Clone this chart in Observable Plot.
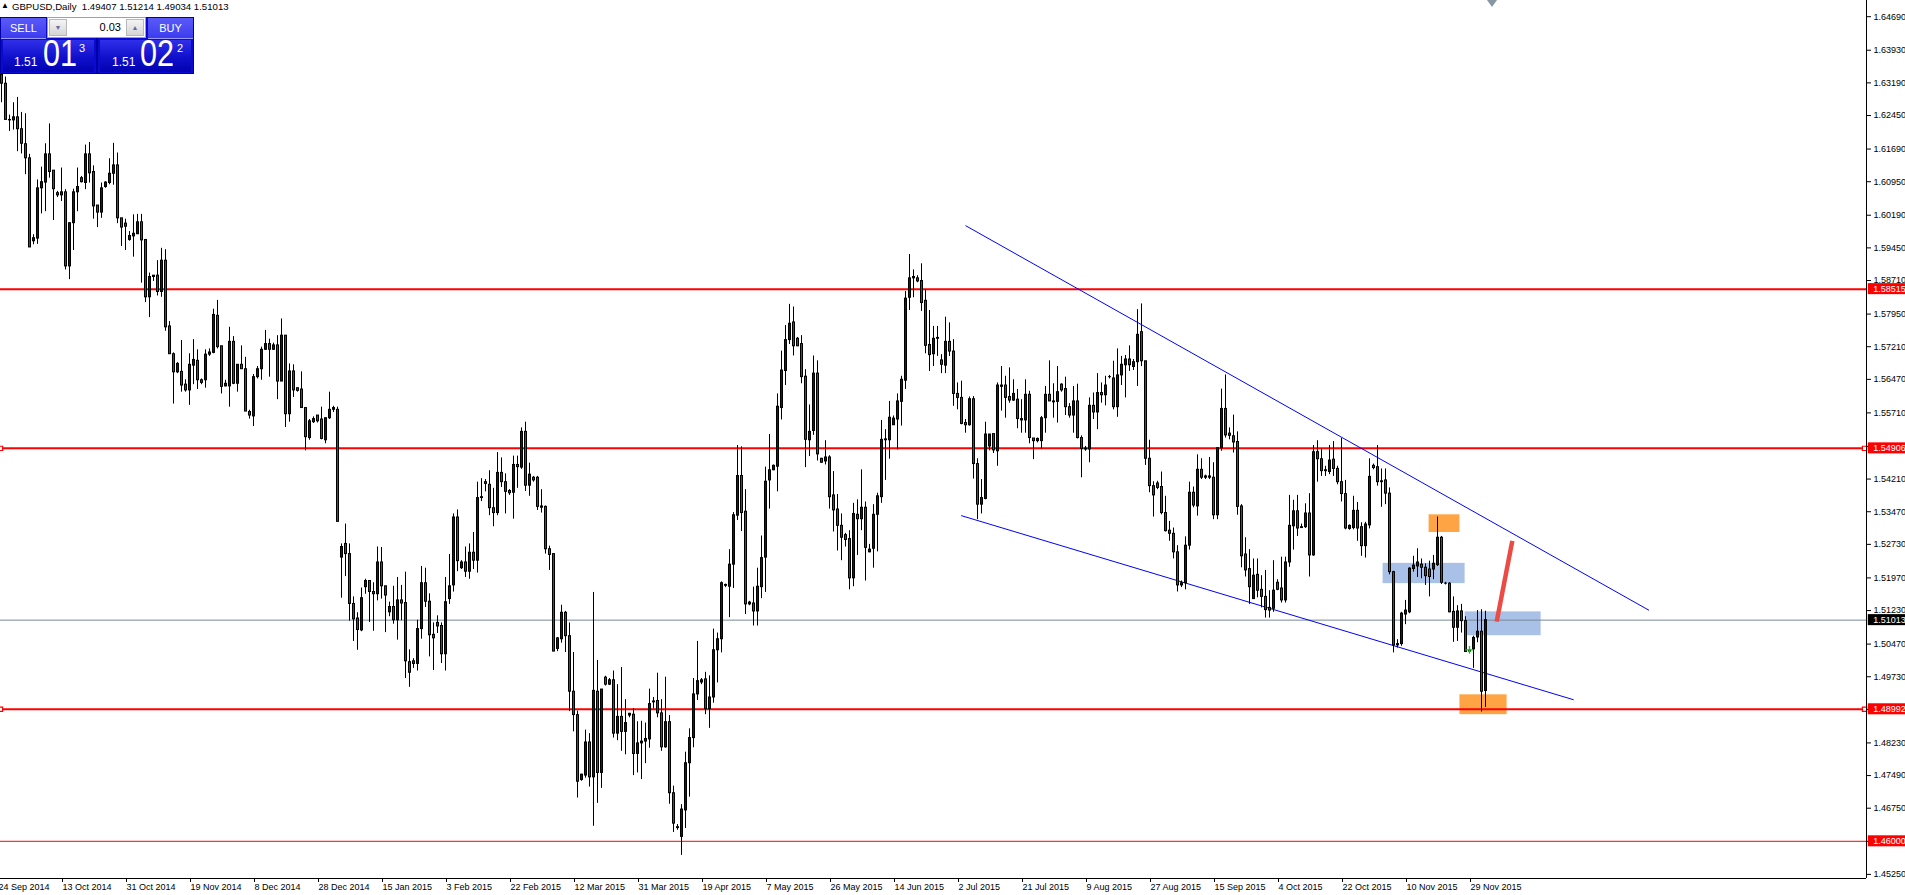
<!DOCTYPE html>
<html><head><meta charset="utf-8">
<script src="https://cdn.jsdelivr.net/npm/d3@7"></script>
<script src="https://cdn.jsdelivr.net/npm/@observablehq/plot@0.6"></script>
<style>
html,body{margin:0;padding:0;background:#fff;overflow:hidden;}
#wrap{position:relative;width:1905px;height:895px;font-family:"Liberation Sans",Arial,sans-serif;}
#wrap svg{position:absolute;left:0;top:0;}
.abs{position:absolute;white-space:pre;line-height:1;}
#hdr{left:12px;top:2px;font-size:9.6px;color:#000;}
#tri{left:1px;top:2px;font-size:8px;color:#000;}
.frame{position:absolute;top:17px;width:97px;height:57px;background:#0a0ad0;box-sizing:border-box;border:1px solid #0000a0;}
.cellTop{position:absolute;top:0;height:21px;width:45px;background:linear-gradient(#5a5af8,#3c3cee);border-bottom:1px solid #9a9aff;box-sizing:border-box;color:#fff;font-size:11px;text-align:center;line-height:21px;}
.cellPx{position:absolute;left:2px;top:22px;width:91px;height:32px;background:linear-gradient(#3030ea,#1010cc 55%,#0202b0);}
#vol{position:absolute;left:47px;top:17px;width:99px;height:21px;background:#fff;border:1px solid #a0a0a0;box-sizing:border-box;}
.arr{position:absolute;top:1px;width:18px;height:17px;background:linear-gradient(#f4f4f4,#d6d6d6);border:1px solid #b8b8b8;box-sizing:border-box;color:#6a6aa0;font-size:7px;text-align:center;line-height:15px;}
#volTxt{position:absolute;right:24px;top:4px;font-size:11px;color:#000;line-height:1;}
.pxs{color:#fff;font-size:12px;}
.pxb{color:#fff;font-size:36px;transform:scaleX(0.85);transform-origin:left top;}
.pxu{color:#fff;font-size:11px;}
#shift{position:absolute;left:1487px;top:0;width:0;height:0;border-left:5px solid transparent;border-right:5px solid transparent;border-top:7px solid #8896a4;}
</style></head>
<body><div id="wrap"></div>
<script>
// ---------- data (GBPUSD daily, one value per bar) ----------
const opens = [
1.6337,1.6317,1.6235,1.6234,1.6241,1.6214,1.6180,1.6148,1.5960,1.5966,
1.6080,1.6093,1.6157,1.6120,1.6069,1.6064,1.6071,1.5903,1.6001,1.6071,
1.6103,1.6092,1.6157,1.6117,1.6041,1.6025,1.6083,1.6092,1.6113,1.6132,
1.6012,1.6000,1.5963,1.5971,1.5976,1.6003,1.5963,1.5833,1.5882,1.5882,
1.5845,1.5916,1.5767,1.5704,1.5663,1.5664,1.5635,1.5622,1.5678,1.5689,
1.5645,1.5645,1.5703,1.5707,1.5791,1.5722,1.5631,1.5631,1.5732,1.5637,
1.5680,1.5670,1.5573,1.5563,1.5652,1.5670,1.5714,1.5727,1.5714,1.5724,
1.5642,1.5746,1.5568,1.5665,1.5627,1.5624,1.5582,1.5514,1.5550,1.5565,
1.5556,1.5509,1.5559,1.5578,1.5578,1.5243,1.5274,1.5251,1.5138,1.5105,
1.5078,1.5176,1.5190,1.5165,1.5160,1.5232,1.5178,1.5119,1.5131,1.5101,
1.5146,1.5140,1.5006,1.5008,1.5002,1.5081,1.5185,1.5143,1.5068,1.5095,
1.5088,1.5024,1.5149,1.5180,1.5334,1.5219,1.5232,1.5211,1.5254,1.5236,
1.5378,1.5414,1.5408,1.5355,1.5344,1.5435,1.5414,1.5394,1.5390,1.5453,
1.5447,1.5528,1.5406,1.5424,1.5424,1.5359,1.5358,1.5262,1.5251,1.5036,
1.5058,1.5118,1.5065,1.4939,1.4886,1.4739,1.4749,1.4824,1.4745,1.4939,
1.4755,1.4971,1.4955,1.4965,1.4844,1.4882,1.4848,1.4885,1.4887,1.4798,
1.4822,1.4826,1.4831,1.4915,1.4918,1.4890,1.4813,1.4870,1.4709,1.4630,
1.4610,1.4670,1.4777,1.4834,1.4933,1.4960,1.4967,1.4900,1.4926,1.5033,
1.5058,1.5179,1.5177,1.5227,1.5338,1.5428,1.5347,1.5141,1.5139,1.5121,
1.5176,1.5243,1.5418,1.5441,1.5449,1.5582,1.5666,1.5736,1.5776,1.5739,
1.5727,1.5653,1.5509,1.5530,1.5660,1.5467,1.5461,1.5470,1.5384,1.5352,
1.5315,1.5294,1.5285,1.5196,1.5340,1.5330,1.5356,1.5255,1.5263,1.5340,
1.5380,1.5509,1.5509,1.5543,1.5556,1.5596,1.5644,1.5832,1.5876,1.5876,
1.5870,1.5825,1.5725,1.5704,1.5739,1.5690,1.5678,1.5732,1.5710,1.5614,
1.5605,1.5548,1.5543,1.5602,1.5455,1.5363,1.5376,1.5495,1.5523,1.5484,
1.5633,1.5633,1.5607,1.5599,1.5601,1.5557,1.5554,1.5612,1.5513,1.5507,
1.5507,1.5559,1.5612,1.5595,1.5596,1.5635,1.5625,1.5584,1.5565,1.5597,
1.5514,1.5490,1.5488,1.5587,1.5572,1.5616,1.5611,1.5652,1.5649,1.5584,
1.5656,1.5679,1.5692,1.5675,1.5686,1.5754,1.5688,1.5467,1.5405,1.5411,
1.5403,1.5344,1.5304,1.5297,1.5255,1.5180,1.5185,1.5270,1.5390,1.5359,
1.5442,1.5424,1.5427,1.5424,1.5339,1.5491,1.5580,1.5524,1.5518,1.5505,
1.5359,1.5250,1.5217,1.5149,1.5204,1.5170,1.5154,1.5129,1.5127,1.5186,
1.5173,1.5146,1.5232,1.5314,1.5348,1.5312,1.5312,1.5343,1.5248,1.5482,
1.5466,1.5441,1.5437,1.5465,1.5444,1.5414,1.5387,1.5308,1.5310,1.5349,
1.5312,1.5269,1.5316,1.5451,1.5448,1.5416,1.5418,1.5388,1.5210,1.5047,
1.5047,1.5114,1.5119,1.5217,1.5223,1.5227,1.5220,1.5216,1.5216,1.5226,
1.5288,1.5184,1.5184,1.5120,1.5084,1.5121,1.5099,1.5030,1.5035,1.5062,
1.5075,1.49407];
const highs = [
1.6339,1.6332,1.6246,1.6274,1.6286,1.6252,1.6249,1.6157,1.5975,1.6099,
1.6128,1.6181,1.6226,1.6120,1.6073,1.6126,1.6077,1.6001,1.6078,1.6126,
1.6107,1.6178,1.6184,1.6131,1.6041,1.6092,1.6095,1.6147,1.6182,1.6160,
1.6012,1.6010,1.5982,1.6020,1.6021,1.6021,1.5963,1.5888,1.5882,1.5916,
1.5944,1.5941,1.5778,1.5707,1.5685,1.5735,1.5646,1.5705,1.5737,1.5714,
1.5648,1.5714,1.5716,1.5806,1.5826,1.5722,1.5645,1.5765,1.5744,1.5680,
1.5723,1.5697,1.5577,1.5658,1.5676,1.5720,1.5758,1.5738,1.5729,1.5746,
1.5784,1.5746,1.5682,1.5680,1.5627,1.5664,1.5582,1.5556,1.5562,1.5565,
1.5584,1.5559,1.5618,1.5586,1.5584,1.5274,1.5319,1.5274,1.5154,1.5118,
1.5174,1.5194,1.5191,1.5186,1.5267,1.5266,1.5178,1.5142,1.5178,1.5198,
1.5180,1.5210,1.5034,1.5014,1.5101,1.5223,1.5219,1.5161,1.5095,1.5111,
1.5095,1.5198,1.5250,1.5342,1.5351,1.5236,1.5267,1.5274,1.5300,1.5414,
1.5422,1.5420,1.5440,1.5400,1.5481,1.5469,1.5433,1.5397,1.5473,1.5473,
1.5537,1.5550,1.5457,1.5427,1.5427,1.5397,1.5360,1.5269,1.5251,1.5062,
1.5135,1.5121,1.5095,1.5028,1.4895,1.4752,1.4852,1.4844,1.5164,1.5010,
1.4944,1.4974,1.4969,1.4986,1.4955,1.4994,1.4921,1.4890,1.4901,1.4871,
1.4872,1.4868,1.4945,1.4926,1.4981,1.4921,1.4972,1.4885,1.4725,1.4638,
1.4683,1.4802,1.4855,1.4969,1.5053,1.4969,1.4983,1.4975,1.5081,1.5072,
1.5188,1.5183,1.5261,1.5345,1.5497,1.5494,1.5397,1.5144,1.5176,1.5219,
1.5292,1.5448,1.5522,1.5453,1.5614,1.5711,1.5769,1.5817,1.5811,1.5742,
1.5746,1.5669,1.5589,1.5700,1.5689,1.5468,1.5508,1.5474,1.5438,1.5386,
1.5342,1.5298,1.5304,1.5366,1.5374,1.5442,1.5369,1.5273,1.5363,1.5389,
1.5554,1.5533,1.5597,1.5564,1.5614,1.5654,1.5846,1.5930,1.5895,1.5882,
1.5909,1.5849,1.5803,1.5767,1.5767,1.5703,1.5788,1.5775,1.5737,1.5639,
1.5643,1.5556,1.5607,1.5608,1.5467,1.5420,1.5550,1.5522,1.5523,1.5639,
1.5676,1.5654,1.5673,1.5646,1.5624,1.5601,1.5646,1.5620,1.5513,1.5514,
1.5563,1.5631,1.5689,1.5637,1.5676,1.5637,1.5652,1.5592,1.5631,1.5636,
1.5519,1.5495,1.5605,1.5616,1.5660,1.5639,1.5654,1.5656,1.5688,1.5716,
1.5699,1.5701,1.5723,1.5692,1.5805,1.5818,1.5688,1.5509,1.5415,1.5416,
1.5437,1.5382,1.5325,1.5310,1.5270,1.5190,1.5290,1.5414,1.5403,1.5476,
1.5467,1.5430,1.5470,1.5458,1.5491,1.5625,1.5657,1.5537,1.5566,1.5528,
1.5363,1.5288,1.5261,1.5240,1.5240,1.5202,1.5214,1.5168,1.5236,1.5193,
1.5244,1.5244,1.5384,1.5373,1.5384,1.5319,1.5365,1.5388,1.5497,1.5508,
1.5489,1.5450,1.5497,1.5506,1.5450,1.5513,1.5418,1.5317,1.5382,1.5368,
1.5322,1.5323,1.5467,1.5455,1.5497,1.5444,1.5444,1.5401,1.5212,1.5057,
1.5119,1.5146,1.5220,1.5246,1.5263,1.5240,1.5229,1.5235,1.5248,1.5335,
1.5291,1.5187,1.5186,1.5154,1.5134,1.5137,1.5109,1.5034,1.5065,1.5123,
1.5125,1.51214];
const lows = [
1.6274,1.6235,1.6209,1.6212,1.6163,1.6158,1.6111,1.5946,1.5952,1.5953,
1.6022,1.6027,1.6103,1.6007,1.6059,1.6050,1.5895,1.5873,1.5939,1.6027,
1.6092,1.6077,1.6092,1.6010,1.5991,1.6012,1.6080,1.6088,1.6087,1.6000,
1.5948,1.5939,1.5960,1.5924,1.5975,1.5865,1.5821,1.5787,1.5869,1.5836,
1.5833,1.5756,1.5704,1.5591,1.5660,1.5618,1.5618,1.5588,1.5635,1.5624,
1.5635,1.5627,1.5699,1.5705,1.5716,1.5614,1.5630,1.5584,1.5635,1.5618,
1.5670,1.5574,1.5557,1.5540,1.5648,1.5645,1.5713,1.5652,1.5713,1.5601,
1.5642,1.5538,1.5550,1.5606,1.5618,1.5582,1.5485,1.5509,1.5547,1.5548,
1.5510,1.5501,1.5556,1.5572,1.5324,1.5151,1.5200,1.5099,1.5053,1.5033,
1.5075,1.5160,1.5096,1.5076,1.5145,1.5149,1.5073,1.5109,1.5092,1.5056,
1.5100,1.4969,1.4949,1.4992,1.4986,1.5058,1.5130,1.5018,1.4987,1.5071,
1.5003,1.4986,1.5137,1.5165,1.5211,1.5216,1.5198,1.5194,1.5216,1.5208,
1.5370,1.5392,1.5338,1.5313,1.5338,1.5402,1.5342,1.5384,1.5330,1.5400,
1.5443,1.5393,1.5382,1.5414,1.5350,1.5344,1.5251,1.5214,1.5030,1.5030,
1.5049,1.5028,1.4894,1.4848,1.4698,1.4736,1.4743,1.4723,1.4634,1.4686,
1.4720,1.4952,1.4953,1.4834,1.4828,1.4804,1.4796,1.4880,1.4749,1.4755,
1.4740,1.4776,1.4811,1.4900,1.4880,1.4804,1.4811,1.4684,1.4620,1.4625,
1.4568,1.4629,1.4700,1.4812,1.4919,1.4955,1.4887,1.4856,1.4913,1.4959,
1.5027,1.5175,1.5107,1.5173,1.5327,1.5302,1.5114,1.5134,1.5088,1.5088,
1.5150,1.5164,1.5353,1.5440,1.5392,1.5555,1.5633,1.5726,1.5700,1.5721,
1.5637,1.5447,1.5472,1.5520,1.5462,1.5457,1.5453,1.5353,1.5301,1.5258,
1.5236,1.5267,1.5170,1.5177,1.5248,1.5304,1.5190,1.5254,1.5219,1.5256,
1.5366,1.5418,1.5466,1.5543,1.5487,1.5541,1.5624,1.5803,1.5832,1.5866,
1.5801,1.5705,1.5665,1.5676,1.5699,1.5660,1.5660,1.5699,1.5586,1.5578,
1.5544,1.5525,1.5541,1.5421,1.5329,1.5342,1.5374,1.5485,1.5479,1.5450,
1.5575,1.5559,1.5593,1.5597,1.5535,1.5525,1.5525,1.5501,1.5465,1.5503,
1.5488,1.5525,1.5597,1.5559,1.5548,1.5618,1.5565,1.5559,1.5525,1.5512,
1.5424,1.5484,1.5458,1.5556,1.5533,1.5593,1.5587,1.5648,1.5578,1.5561,
1.5633,1.5605,1.5665,1.5667,1.5631,1.5676,1.5452,1.5390,1.5335,1.5397,
1.5340,1.5301,1.5280,1.5240,1.5165,1.5175,1.5170,1.5260,1.5356,1.5337,
1.5420,1.5420,1.5420,1.5329,1.5329,1.5484,1.5514,1.5510,1.5480,1.5339,
1.5220,1.5199,1.5137,1.5148,1.5152,1.5129,1.5106,1.5106,1.5119,1.5168,
1.5140,1.5140,1.5221,1.5260,1.5291,1.5309,1.5309,1.5199,1.5246,1.5414,
1.5427,1.5427,1.5431,1.5427,1.5408,1.5369,1.5306,1.5305,1.5306,1.5280,
1.5246,1.5242,1.5308,1.5442,1.5405,1.5357,1.5363,1.5204,1.5027,1.5038,
1.5042,1.5091,1.5116,1.5210,1.5198,1.5195,1.5180,1.5154,1.5193,1.5223,
1.5182,1.5181,1.5118,1.5051,1.5053,1.5072,1.5028,1.5028,1.4992,1.5050,
1.4893,1.49034];
const closes = [
1.6317,1.6235,1.6234,1.6241,1.6214,1.6181,1.6148,1.5946,1.5967,1.6080,
1.6094,1.6157,1.6117,1.6078,1.6064,1.6071,1.5903,1.6001,1.6071,1.6083,
1.6094,1.6157,1.6114,1.6039,1.6025,1.6080,1.6093,1.6113,1.6132,1.6012,
1.5991,1.5993,1.5972,1.5977,1.6003,1.5962,1.5833,1.5879,1.5879,1.5845,
1.5916,1.5765,1.5704,1.5663,1.5682,1.5633,1.5622,1.5680,1.5691,1.5645,
1.5639,1.5703,1.5708,1.5793,1.5720,1.5630,1.5637,1.5732,1.5637,1.5680,
1.5670,1.5574,1.5565,1.5652,1.5670,1.5714,1.5727,1.5714,1.5724,1.5642,
1.5746,1.5568,1.5665,1.5622,1.5621,1.5582,1.5516,1.5552,1.5557,1.5552,
1.5512,1.5559,1.5578,1.5582,1.5324,1.5267,1.5251,1.5138,1.5103,1.5079,
1.5151,1.5190,1.5165,1.5160,1.5232,1.5178,1.5157,1.5131,1.5101,1.5146,
1.5139,1.5008,1.4982,1.5002,1.5081,1.5185,1.5143,1.5067,1.5060,1.5087,
1.5024,1.5142,1.5178,1.5334,1.5235,1.5232,1.5211,1.5254,1.5236,1.5378,
1.5380,1.5410,1.5355,1.5344,1.5435,1.5414,1.5392,1.5389,1.5453,1.5448,
1.5528,1.5406,1.5431,1.5418,1.5358,1.5356,1.5262,1.5249,1.5030,1.5060,
1.5118,1.5065,1.4939,1.4886,1.4735,1.4751,1.4824,1.4745,1.4941,1.4755,
1.4944,1.4955,1.4965,1.4844,1.4882,1.4848,1.4868,1.4889,1.4798,1.4822,
1.4826,1.4832,1.4911,1.4917,1.4890,1.4813,1.4870,1.4709,1.4640,1.4632,
1.4672,1.4777,1.4834,1.4933,1.4963,1.4965,1.4900,1.4926,1.5033,1.5058,
1.5185,1.5181,1.5227,1.5339,1.5428,1.5344,1.5137,1.5137,1.5121,1.5177,
1.5242,1.5415,1.5441,1.5451,1.5585,1.5667,1.5736,1.5773,1.5722,1.5722,
1.5652,1.5510,1.5528,1.5660,1.5477,1.5458,1.5470,1.5380,1.5350,1.5315,
1.5288,1.5283,1.5196,1.5342,1.5330,1.5356,1.5265,1.5261,1.5340,1.5382,
1.5510,1.5511,1.5560,1.5558,1.5597,1.5646,1.5830,1.5876,1.5879,1.5869,
1.5820,1.5723,1.5702,1.5739,1.5741,1.5680,1.5732,1.5710,1.5614,1.5605,
1.5546,1.5543,1.5602,1.5455,1.5363,1.5378,1.5522,1.5522,1.5486,1.5633,
1.5630,1.5605,1.5599,1.5614,1.5557,1.5554,1.5612,1.5514,1.5507,1.5512,
1.5559,1.5612,1.5597,1.5597,1.5618,1.5622,1.5584,1.5565,1.5597,1.5514,
1.5489,1.5488,1.5587,1.5572,1.5616,1.5611,1.5633,1.5652,1.5584,1.5656,
1.5680,1.5692,1.5679,1.5686,1.5748,1.5688,1.5467,1.5405,1.5384,1.5401,
1.5344,1.5303,1.5297,1.5255,1.5180,1.5185,1.5270,1.5390,1.5361,1.5442,
1.5424,1.5427,1.5424,1.5339,1.5491,1.5580,1.5520,1.5519,1.5504,1.5358,
1.5246,1.5214,1.5176,1.5202,1.5168,1.5154,1.5124,1.5123,1.5168,1.5170,
1.5146,1.5232,1.5315,1.5348,1.5309,1.5310,1.5343,1.5248,1.5482,1.5466,
1.5439,1.5439,1.5463,1.5444,1.5414,1.5387,1.5309,1.5315,1.5349,1.5309,
1.5269,1.5318,1.5426,1.5446,1.5414,1.5414,1.5388,1.5210,1.5044,1.5044,
1.5116,1.5123,1.5218,1.5225,1.5232,1.5220,1.5201,1.5199,1.5229,1.5288,
1.5186,1.5184,1.5119,1.5084,1.5121,1.5099,1.5029,1.5032,1.5061,1.5075,
1.4939,1.51013];

const dateLabels = ["24 Sep 2014","13 Oct 2014","31 Oct 2014","19 Nov 2014","8 Dec 2014","28 Dec 2014",
  "15 Jan 2015","3 Feb 2015","22 Feb 2015","12 Mar 2015","31 Mar 2015","19 Apr 2015","7 May 2015",
  "26 May 2015","14 Jun 2015","2 Jul 2015","21 Jul 2015","9 Aug 2015","27 Aug 2015","15 Sep 2015",
  "4 Oct 2015","22 Oct 2015","10 Nov 2015","29 Nov 2015"];
const dateLabelBars = dateLabels.map((_, j) => -1 + 16 * j);   // a label every 16 bars
const priceTicks = [1.64690,1.63930,1.63190,1.62450,1.61690,1.60950,1.60190,1.59450,1.58710,1.57950,
  1.57210,1.56470,1.55710,1.54950,1.54210,1.53470,1.52730,1.51970,1.51230,1.50470,1.49730,1.48990,
  1.48230,1.47490,1.46750,1.46000,1.45250];

const redLevels = [1.58515, 1.54906, 1.48992];
const thinLevels = [1.46000];
const bidPrice = [1.51013];
const selectedLevels = [1.54906, 1.48992];

const upperTrendBar = [241.1, 411.8], upperTrendPrice = [1.5995, 1.5124];
const lowerTrendBar = [240.0, 392.95], lowerTrendPrice = [1.5338, 1.4921];
const projBar = [373.8, 377.7], projPrice = [1.5098, 1.5281];

const zoneFrom = [356.9, 345.4, 365.9, 364.6];
const zoneTo   = [364.6, 365.9, 384.9, 376.4];
const zoneHigh = [1.5340, 1.5230, 1.5120, 1.4932];
const zoneLow  = [1.5300, 1.5184, 1.5066, 1.4887];
const zoneKind = ["extreme", "range", "range", "extreme"];

const markerBar = [367], markerPrice = [1.5034];

// ---------- build ----------
const n = Math.min(opens.length, highs.length, lows.length, closes.length);
const candles = d3.range(n).map(k => ({i: k, o: opens[k], h: highs[k], l: lows[k], c: closes[k],
  top: Math.max(opens[k], closes[k]), bot: Math.min(opens[k], closes[k])}));
const bodies = candles.filter(d => d.top - d.bot >= 0.0004);
const labelByBar = new Map(dateLabelBars.map((b, j) => [b, dateLabels[j]]));
const zones = zoneFrom.map((f, k) => ({f, t: zoneTo[k], hi: zoneHigh[k], lo: zoneLow[k], kind: zoneKind[k]}));
const pts = (xs, ys) => xs.map((x, k) => ({x, y: ys[k]}));
const rightLabels = [
  ...redLevels.map(v => ({v, kind: "red"})),
  ...thinLevels.map(v => ({v, kind: "red"})),
  ...bidPrice.map(v => ({v, kind: "bid"}))
];
const xMax = 466.25, yMin = 1.45157, yMax = 1.65057;
const font = '"Liberation Sans", Arial, sans-serif';

const chart = Plot.plot({
  width: 1905, height: 895,
  marginLeft: 0, marginRight: 39, marginTop: 0, marginBottom: 17,
  x: {domain: [-0.25, xMax]},
  y: {domain: [yMin, yMax]},
  color: {type: "identity"},
  style: {fontFamily: font, fontSize: "9px", background: "#fff", overflow: "visible", color: "#000"},
  marks: [
    Plot.rect(zones, {x1: "f", x2: "t", y1: "lo", y2: "hi",
      fill: d => d.kind === "extreme" ? "#ffa444" : "#a9c1e7"}),
    Plot.ruleY(bidPrice, {y: d => d, stroke: "#778899", strokeWidth: 1}),
    Plot.ruleY(redLevels, {y: d => d, stroke: "#ff0000", strokeWidth: 2}),
    Plot.ruleY(thinLevels, {y: d => d, stroke: "#ff0000", strokeWidth: 1}),
    Plot.line(pts(upperTrendBar, upperTrendPrice), {x: "x", y: "y", stroke: "#0000ff", strokeWidth: 1}),
    Plot.line(pts(lowerTrendBar, lowerTrendPrice), {x: "x", y: "y", stroke: "#0000ff", strokeWidth: 1}),
    // wicks
    Plot.ruleX(candles, {x: "i", y1: "h", y2: "l", stroke: "#000", strokeWidth: 1}),
    // body outline (3 px) and coloured core (1 px)
    Plot.ruleX(candles, {x: "i", y1: "top", y2: "bot", stroke: "#000", strokeWidth: 3,
      insetTop: -0.5, insetBottom: -0.5}),
    Plot.ruleX(bodies, {x: "i", y1: "top", y2: "bot", strokeWidth: 1,
      stroke: d => d.c >= d.o ? "#0000ff" : "#ff0000", insetTop: 0.5, insetBottom: 0.5}),
    Plot.line(pts(projBar, projPrice), {x: "x", y: "y", stroke: "#ec4a44", strokeWidth: 4.5, strokeLinecap: "butt"}),
    Plot.dot(pts(markerBar, markerPrice), {x: "x", y: "y", symbol: "plus", r: 2.6, stroke: "#00d000", strokeWidth: 1.3}),
    Plot.dot(selectedLevels.flatMap(v => [{x: -0.25, y: v}, {x: 465.75, y: v}]),
      {x: "x", y: "y", symbol: "square", r: 2.4, stroke: "#ff0000", fill: "#fff", strokeWidth: 1.2}),
    Plot.ruleX([xMax], {x: d => d, stroke: "#000"}),
    Plot.ruleY([yMin], {y: d => d, stroke: "#000"}),
    Plot.axisY({anchor: "right", ticks: priceTicks, tickSize: 4, tickPadding: 3,
      tickFormat: d => d.toFixed(5), fontSize: 9, label: null}),
    Plot.axisX({anchor: "bottom", ticks: dateLabelBars, tickSize: 4, tickPadding: 1,
      tickFormat: d => labelByBar.get(d), textAnchor: "start", dx: 1, fontSize: 9, label: null}),
    Plot.rect(rightLabels, {x1: 466.7, x2: 477, y1: d => d.v - 0.00125, y2: d => d.v + 0.00125,
      fill: d => d.kind === "bid" ? "#000" : "#ff0000"}),
    Plot.text(rightLabels, {x: 466.7, y: "v", text: d => d.v.toFixed(5), fill: "#fff",
      textAnchor: "start", dx: 5, fontSize: 9})
  ]
});

const wrap = document.getElementById("wrap");
wrap.appendChild(chart);

// ---------- header text and one-click trading panel ----------
const html = `
<div class="abs" id="tri">&#9650;</div>
<div class="abs" id="hdr">GBPUSD,Daily  ${opens[n-1].toFixed(5)} ${highs[n-1].toFixed(5)} ${lows[n-1].toFixed(5)} ${closes[n-1].toFixed(5)}</div>
<div class="frame" style="left:0">
  <div class="cellTop" style="left:0">SELL</div>
  <div class="cellPx"></div>
</div>
<div class="frame" style="left:97px">
  <div class="cellTop" style="right:0">BUY</div>
  <div class="cellPx"></div>
</div>
<div id="vol">
  <div class="arr" style="left:1px">&#9660;</div>
  <div id="volTxt">0.03</div>
  <div class="arr" style="right:1px">&#9650;</div>
</div>
<div class="abs pxs" style="left:14px;top:56px">1.51</div>
<div class="abs pxb" style="left:43px;top:36px">01</div>
<div class="abs pxu" style="left:79px;top:43px">3</div>
<div class="abs pxs" style="left:112px;top:56px">1.51</div>
<div class="abs pxb" style="left:140px;top:36px">02</div>
<div class="abs pxu" style="left:177px;top:43px">2</div>
<div id="shift"></div>`;
wrap.insertAdjacentHTML("beforeend", html);
</script>
</body></html>
